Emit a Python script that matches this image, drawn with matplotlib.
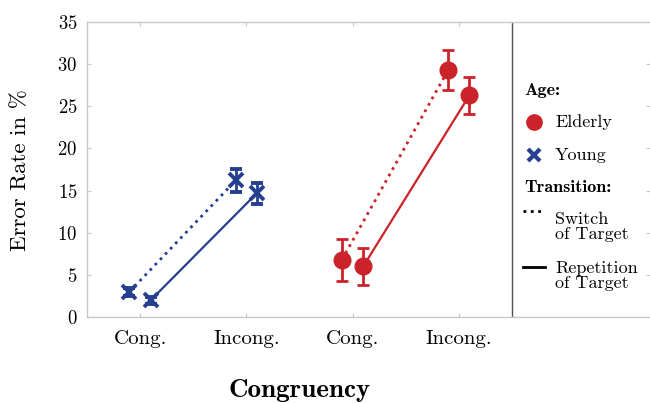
import matplotlib.pyplot as plt
from matplotlib.lines import Line2D

plt.rcParams['font.family'] = 'cmr10'
plt.rcParams['mathtext.fontset'] = 'cm'
plt.rcParams['axes.formatter.use_mathtext'] = True

# data
categories = ['Cong.', 'Incong.', 'Cong.', 'Incong.']
young_x = [1, 2]
elderly_x = [3, 4]
young_switch = [3.0, 16.2]
young_switch_err = [0.5, 1.4]
young_repeat = [2.0, 14.7]
young_repeat_err = [0.4, 1.25]
elderly_switch = [6.8, 29.3]
elderly_switch_err = [2.5, 2.4]
elderly_repeat = [6.0, 26.3]
elderly_repeat_err = [2.2, 2.2]

red = '#cc2229'
blue = '#26408f'
grey = '#c8c8c8'
off = 0.1

fig = plt.figure(figsize=(6.5, 4.03), dpi=100)
ax = fig.add_axes([87/650, 1-317/403, 1-87/650, (317-22)/403])

def series(xs, ys, err, color, marker, ls, dx):
    x = [v + dx for v in xs]
    ax.plot(x, ys, color=color, ls=ls, lw=1.6 if ls == '-' else 2.0, zorder=2)
    if marker == 'o':
        ax.errorbar(x, ys, yerr=err, fmt='o', color=color, ms=12, elinewidth=2,
                    capsize=4, capthick=2, zorder=3)
    else:
        ax.errorbar(x, ys, yerr=err, fmt='x', color=color, ms=10, mew=2.8,
                    elinewidth=2, capsize=4, capthick=2, zorder=3)

series(young_x, young_switch, young_switch_err, blue, 'x', ':', -off)
series(young_x, young_repeat, young_repeat_err, blue, 'x', '-', off)
series(elderly_x, elderly_switch, elderly_switch_err, red, 'o', ':', -off)
series(elderly_x, elderly_repeat, elderly_repeat_err, red, 'o', '-', off)

ax.axvline(4.5, color='#555555', lw=1.0, zorder=1)

ax.set_xlim(0.5, 5.8)
ax.set_ylim(0, 35)
ax.set_xticks([1, 2, 3, 4])
ax.set_xticklabels(categories, fontsize=15)
ax.set_yticks(range(0, 36, 5))
ax.tick_params(axis='y', labelsize=13.5, pad=7)
ax.tick_params(axis='x', pad=9)
ax.tick_params(direction='in', length=3, color=grey, top=True, right=True)
for s in ax.spines.values():
    s.set_color(grey)
    s.set_linewidth(1.0)
ax.spines['right'].set_visible(False)

fig.text(20/650, 1-170/403, 'Error Rate in %', rotation=90, fontsize=16.5,
         ha='center', va='center')
fig.text(300/650, 1-391/403, 'Congruency', fontsize=19.5, family='cmb10',
         ha='center', va='center')

# legend, drawn by hand
def fx(px):
    return px/650
def fy(py):
    return 1-py/403

fs = 13
fig.text(fx(524), fy(90), 'Age:', family='cmb10', fontsize=fs, va='center')
fig.add_artist(Line2D([fx(534)], [fy(122)], marker='o', ms=11, color=red, ls='none'))
fig.text(fx(555), fy(122), 'Elderly', fontsize=fs, va='center')
fig.add_artist(Line2D([fx(534)], [fy(155)], marker='x', ms=8, mew=3, color=blue, ls='none'))
fig.text(fx(555), fy(155), 'Young', fontsize=fs, va='center')
fig.text(fx(524), fy(187), 'Transition:', family='cmb10', fontsize=fs, va='center')
fig.add_artist(Line2D([fx(523), fx(543)], [fy(211), fy(211)], color='black', ls=':', lw=2))
fig.text(fx(555), fy(227), 'Switch\nof Target', fontsize=fs, va='center', linespacing=0.95)
fig.add_artist(Line2D([fx(523), fx(545)], [fy(267), fy(267)], color='black', ls='-', lw=2))
fig.text(fx(555), fy(276), 'Repetition\nof Target', fontsize=fs, va='center', linespacing=0.95)

fig.savefig('out.png', dpi=100)
